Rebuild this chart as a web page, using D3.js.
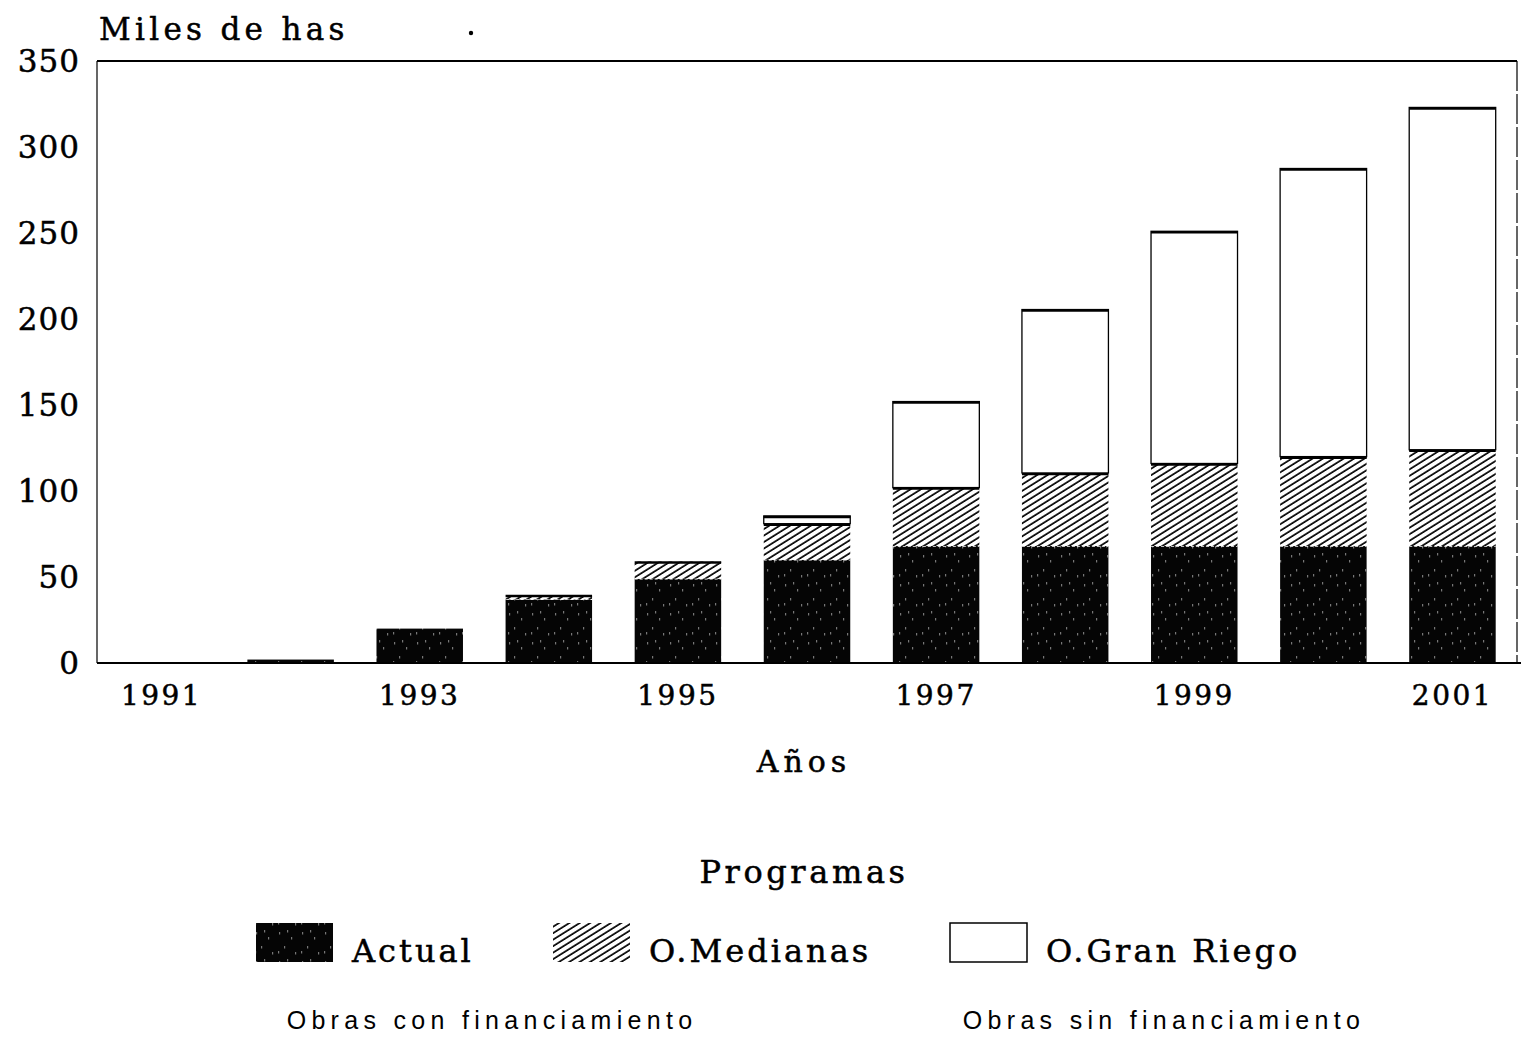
<!DOCTYPE html>
<html>
<head>
<meta charset="utf-8">
<script src="https://cdn.jsdelivr.net/npm/d3@7"></script>
<style>
  html, body { margin: 0; padding: 0; background: #fff; }
  svg { display: block; }
  .heavy { stroke: #000; stroke-width: 0.5px; }
</style>
</head>
<body>
<svg id="chart" width="1522" height="1045"></svg>
<script>
// ---- data ----
const years = [1991, 1992, 1993, 1994, 1995, 1996, 1997, 1998, 1999, 2000, 2001];
const actual    = [0, 2, 20, 37, 49, 60, 68, 68, 68, 68, 68];
const medianas  = [0, 0, 0, 2.5, 10, 21, 34, 42.5, 48, 52, 56];
const granRiego = [0, 0, 0, 0, 0, 4.5, 50, 95, 135, 167.5, 199];
const yTicks = [0, 50, 100, 150, 200, 250, 300, 350];
const xTickYears = [1991, 1993, 1995, 1997, 1999, 2001];
const seriesNames = ["Actual", "O.Medianas", "O.Gran Riego"];
const seriesKeys = ["actual", "medianas", "granRiego"];

const rows = years.map((y, i) => ({ year: y, actual: actual[i], medianas: medianas[i], granRiego: granRiego[i] }));

const svg = d3.select("#chart");
const pLeft = 97, pRight = 1517, pTop = 61, pBottom = 663;

const x = d3.scaleBand().domain(years).range([pLeft, pRight]).paddingInner(0.33).paddingOuter(0.165);
const y = d3.scaleLinear().domain([0, 350]).range([pBottom, pTop]);

const serif = "'DejaVu Serif', serif";
const sans = "'Liberation Sans', Arial, sans-serif";

// patterns
const defs = svg.append("defs");
const hatch = defs.append("pattern")
  .attr("id", "hatch").attr("patternUnits", "userSpaceOnUse")
  .attr("width", 5.5).attr("height", 10)
  .attr("patternTransform", "rotate(58)");
hatch.append("rect").attr("width", 5.5).attr("height", 10).attr("fill", "#fff");
hatch.append("line").attr("x1", 1).attr("y1", 0).attr("x2", 1).attr("y2", 10)
  .attr("stroke", "#000").attr("stroke-width", 1.7);

const speck = defs.append("pattern")
  .attr("id", "speck").attr("patternUnits", "userSpaceOnUse")
  .attr("width", 23).attr("height", 29);
speck.append("rect").attr("width", 23).attr("height", 29).attr("fill", "#050505");
[[3,4],[15,9],[8,18],[19,24],[11,2],[2,23]].forEach(p => {
  speck.append("rect").attr("x", p[0]).attr("y", p[1]).attr("width", 1.2).attr("height", 2.5).attr("fill", "#777");
});

// stack
const stack = d3.stack().keys(seriesKeys);
const stacked = stack(rows);
const fills = { actual: "url(#speck)", medianas: "url(#hatch)", granRiego: "#fff" };

const g = svg.append("g");
stacked.forEach(layer => {
  const key = layer.key;
  layer.forEach(d => {
    const h = y(d[0]) - y(d[1]);
    if (h <= 0) return;
    const xx = x(d.data.year), w = x.bandwidth();
    g.append("rect")
      .attr("x", xx).attr("y", y(d[1]))
      .attr("width", w).attr("height", h)
      .attr("fill", fills[key])
      .attr("stroke", key === "granRiego" ? "#000" : "none")
      .attr("stroke-width", 1.3);
    if (key !== "actual") {
      g.append("line")
        .attr("x1", xx).attr("x2", xx + w)
        .attr("y1", y(d[1]) + 1).attr("y2", y(d[1]) + 1)
        .attr("stroke", "#000").attr("stroke-width", 2.6);
    }
    if (key === "actual" && d.data.medianas > 0) {
      g.append("line")
        .attr("x1", xx).attr("x2", xx + w)
        .attr("y1", y(d[1])).attr("y2", y(d[1]))
        .attr("stroke", "#fff").attr("stroke-width", 1.5).attr("stroke-dasharray", "3,2");
    }
  });
});

// frame
svg.append("line").attr("x1", pLeft).attr("x2", pRight).attr("y1", pTop).attr("y2", pTop)
  .attr("stroke", "#000").attr("stroke-width", 2);
svg.append("line").attr("x1", pLeft).attr("x2", pLeft).attr("y1", pTop).attr("y2", pBottom)
  .attr("stroke", "#000").attr("stroke-width", 1.2);
svg.append("line").attr("x1", pRight).attr("x2", pRight).attr("y1", pTop).attr("y2", pBottom)
  .attr("stroke", "#000").attr("stroke-width", 1.2).attr("stroke-dasharray", "30,3");
svg.append("line").attr("x1", pLeft).attr("x2", pRight + 4).attr("y1", pBottom).attr("y2", pBottom)
  .attr("stroke", "#000").attr("stroke-width", 2.2);

// y axis labels
const yAxis = d3.axisLeft(y).tickValues(yTicks).tickSize(0).tickPadding(17);
const ya = svg.append("g").attr("transform", `translate(${pLeft},0)`).call(yAxis);
ya.select(".domain").remove();
ya.selectAll("text")
  .attr("class", "heavy")
  .attr("font-family", serif).attr("font-size", 31).attr("fill", "#000")
  .attr("letter-spacing", 1).attr("dy", "0.34em");

// x axis labels
const xAxis = d3.axisBottom(x).tickValues(xTickYears).tickSize(0).tickPadding(22);
const xa = svg.append("g").attr("transform", `translate(0,${pBottom})`).call(xAxis);
xa.select(".domain").remove();
xa.selectAll("text")
  .attr("class", "heavy")
  .attr("font-family", serif).attr("font-size", 28).attr("fill", "#000")
  .attr("letter-spacing", 2.5);

// titles
svg.append("text").attr("class", "heavy").attr("x", 99).attr("y", 40)
  .attr("font-family", serif).attr("font-size", 31).attr("letter-spacing", 4.3)
  .text("Miles de has");
svg.append("circle").attr("cx", 471).attr("cy", 33).attr("r", 2.2).attr("fill", "#000");
svg.append("text").attr("class", "heavy").attr("x", 804).attr("y", 772).attr("text-anchor", "middle")
  .attr("font-family", serif).attr("font-size", 30).attr("letter-spacing", 5)
  .text("Años");
svg.append("text").attr("class", "heavy").attr("x", 804).attr("y", 883).attr("text-anchor", "middle")
  .attr("font-family", serif).attr("font-size", 32).attr("letter-spacing", 3.6)
  .text("Programas");

// legend
const legendX = [256, 553, 950];
const legend = svg.append("g");
seriesKeys.forEach((k, i) => {
  legend.append("rect").attr("x", legendX[i]).attr("y", 923).attr("width", 77).attr("height", 39)
    .attr("fill", fills[k]).attr("stroke", k === "granRiego" ? "#000" : "none").attr("stroke-width", 1.5);
  legend.append("text").attr("class", "heavy").attr("x", legendX[i] + 96).attr("y", 962)
    .attr("font-family", serif).attr("font-size", 32).attr("letter-spacing", 3)
    .text(seriesNames[i]);
});

svg.append("text").attr("x", 492).attr("y", 1029).attr("text-anchor", "middle")
  .attr("font-family", sans).attr("font-size", 25).attr("letter-spacing", 5.3)
  .text("Obras con financiamiento");
svg.append("text").attr("x", 1164).attr("y", 1029).attr("text-anchor", "middle")
  .attr("font-family", sans).attr("font-size", 25).attr("letter-spacing", 5.3)
  .text("Obras sin financiamiento");
</script>
</body>
</html>
